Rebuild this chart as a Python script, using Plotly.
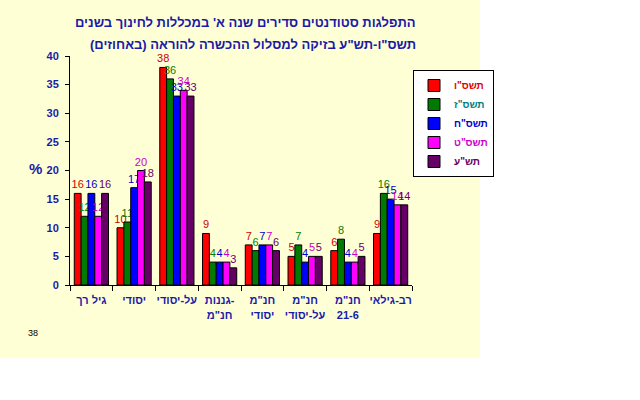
import plotly.graph_objects as go

categories = ["גיל רך", "יסודי", "על-יסודי", "גננות-<br>חנ\"מ", "חנ\"מ<br>יסודי",
              "חנ\"מ<br>על-יסודי", "חנ\"מ<br>21-6", "רב-גילאי"]
series_names = ["תשס\"ו", "תשס\"ז", "תשס\"ח", "תשס\"ט", "תש\"ע"]
v_tashsav = [16, 10, 38, 9, 7, 5, 6, 9]
v_tashsaz = [12, 11, 36, 4, 6, 7, 8, 16]
v_tashsah = [16, 17, 33, 4, 7, 4, 4, 15]
v_tashsat = [12, 20, 34, 4, 7, 5, 4, 14]
v_tashaa = [16, 18, 33, 3, 6, 5, 5, 14]
series_values = [v_tashsav, v_tashsaz, v_tashsah, v_tashsat, v_tashaa]
y_ticks = [0, 5, 10, 15, 20, 25, 30, 35, 40]

bar_colors = ["#FF0000", "#007A00", "#0000FF", "#FF00FF", "#660066"]
label_colors = ["#D00000", "#008000", "#0000CC", "#CC00CC", "#660066"]
legend_colors = ["#E00000", "#008080", "#0000CC", "#CC00CC", "#660066"]
BLUE = "#1A1AA8"

fig = go.Figure()
for name, vals, bc, lc, lgc in zip(series_names, series_values, bar_colors, label_colors, legend_colors):
    fig.add_trace(go.Bar(
        x=categories, y=vals,
        name=f'<span style="color:{lgc}">{name}</span>',
        marker=dict(color=bc, line=dict(color="black", width=1)),
        text=[str(v) for v in vals], textposition="outside",
        constraintext="none", cliponaxis=False,
        textfont=dict(family="Arial", size=11, color=lc),
    ))

W0, H0 = 342, 229  # plot area size
L, T = 70, 56

def px_x(x):
    return (x - L) / W0

def px_y(y):
    return (T + H0 - y) / H0

fig.update_layout(
    width=640, height=400,
    margin=dict(l=L, r=640 - L - W0, t=T, b=400 - T - H0),
    paper_bgcolor="white", plot_bgcolor="rgba(0,0,0,0)",
    barmode="group", bargap=0.2, bargroupgap=0,
    showlegend=True,
    legend=dict(x=px_x(413), y=px_y(70), xanchor="left", yanchor="top",
                bgcolor="white", bordercolor="black", borderwidth=1,
                font=dict(family="Arial", size=10, color="black", weight="bold"),
                itemwidth=30, tracegroupgap=0),
    font=dict(family="Arial"),
    xaxis=dict(showline=True, linecolor="black", linewidth=1, ticks="outside",
               tickson="boundaries", ticklen=5, tickcolor="black", tickangle=0,
               ticklabelstandoff=5,
               tickfont=dict(family="Arial", size=11, color=BLUE, weight="bold"),
               showgrid=False, zeroline=False),
    yaxis=dict(range=[0, 40], tickvals=y_ticks, showline=True, linecolor="black",
               linewidth=1, ticks="outside", ticklen=4, tickcolor="black",
               ticklabelstandoff=4,
               tickfont=dict(family="Arial", size=11, color=BLUE, weight="bold"),
               showgrid=False, zeroline=False),
    shapes=[dict(type="rect", xref="paper", yref="paper", layer="below",
                 x0=px_x(0), x1=px_x(480), y0=px_y(358), y1=px_y(0),
                 fillcolor="#FFFFD6", line=dict(width=0))],
    annotations=[
        dict(text="התפלגות סטודנטים סדירים שנה א' במכללות לחינוך בשנים\u200f",
             xref="paper", yref="paper", x=px_x(418), y=px_y(22),
             xanchor="right", yanchor="middle", showarrow=False,
             font=dict(family="Arial", size=13, color=BLUE, weight="bold")),
        dict(text="תשס\"ו-תש\"ע בזיקה למסלול ההכשרה להוראה (באחוזים)\u200f",
             xref="paper", yref="paper", x=px_x(418), y=px_y(44),
             xanchor="right", yanchor="middle", showarrow=False,
             font=dict(family="Arial", size=13, color=BLUE, weight="bold")),
        dict(text="%", xref="paper", yref="paper", x=px_x(35), y=px_y(168),
             xanchor="center", yanchor="middle", showarrow=False,
             font=dict(family="Arial", size=15, color=BLUE, weight="bold")),
        dict(text="38", xref="paper", yref="paper", x=px_x(33), y=px_y(333),
             xanchor="center", yanchor="middle", showarrow=False,
             font=dict(family="Arial", size=9, color="black")),
    ],
)

fig.write_html("out.html")
